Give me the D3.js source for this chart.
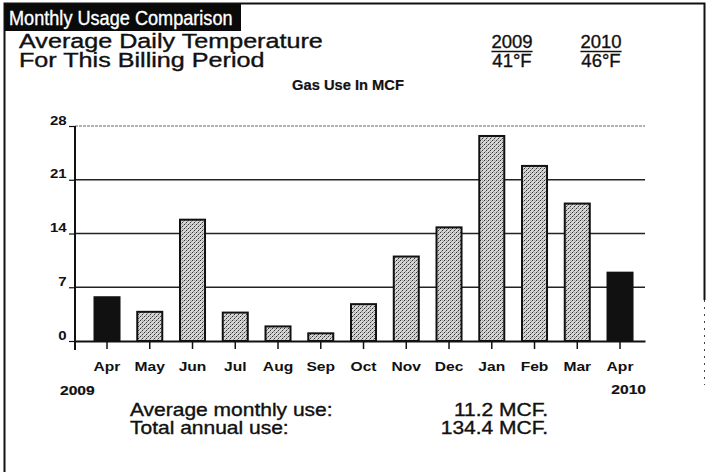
<!DOCTYPE html>
<html>
<head>
<meta charset="utf-8">
<script src="https://cdn.jsdelivr.net/npm/d3@7"></script>
<style>
  body { margin: 0; background: #fff; }
  svg { display: block; font-family: "Liberation Sans", Arial, sans-serif; }
</style>
</head>
<body>
<div id="vis"></div>
<script>
// chart data
const periods = ["2009-04", "2009-05", "2009-06", "2009-07", "2009-08", "2009-09", "2009-10",
                 "2009-11", "2009-12", "2010-01", "2010-02", "2010-03", "2010-04"];
const monthLabels = ["Apr", "May", "Jun", "Jul", "Aug", "Sep", "Oct", "Nov", "Dec", "Jan", "Feb", "Mar", "Apr"];
const usage = [5.7, 3.8, 15.8, 3.7, 1.9, 1.0, 4.8, 11.0, 14.8, 26.7, 22.8, 17.9, 8.9];
const comparePeriods = ["2009-04", "2010-04"];
const yTicks = [0, 7, 14, 21, 28];
const tempYears = ["2009", "2010"];
const tempValues = ["41°F", "46°F"];
const summaryLabels = ["Average monthly use:", "Total annual use:"];
const summaryValues = ["11.2 MCF.", "134.4 MCF."];

const totalWidth = 707, totalHeight = 472;
const plot = {left: 75, right: 645, top: 126, bottom: 341};
const stretch = 1.2; // the printed type is wide

const svg = d3.select("#vis")
  .append("svg")
    .attr("width", totalWidth)
    .attr("height", totalHeight);

// draw a text at x,y, stretched sideways by sx
function addText(x, y, txt, size, sx, opts) {
    opts = opts || {};
    const fill = opts.fill || "#111";
    return svg.append("text")
        .attr("transform", "translate(" + x + "," + y + ") scale(" + sx + ",1)")
        .attr("text-anchor", opts.anchor || "start")
        .attr("fill", fill)
        .attr("stroke", fill)
        .attr("stroke-width", opts.bold ? 0.2 : 0.35)
        .style("font-size", size + "px")
        .style("font-weight", opts.bold ? "bold" : "normal")
        .text(txt);
}

// stipple fill for the bars
const defs = svg.append("defs");
const pat = defs.append("pattern")
    .attr("id", "stipple")
    .attr("patternUnits", "userSpaceOnUse")
    .attr("width", 4)
    .attr("height", 4);
pat.append("rect").attr("width", 4).attr("height", 4).attr("fill", "#d6d6d6");
[[0, 0, "#333"], [2, 2, "#333"], [1, 3, "#888"], [3, 1, "#888"], [2, 0, "#aaa"]].forEach(p => {
    pat.append("rect").attr("x", p[0]).attr("y", p[1])
        .attr("width", 1).attr("height", 1).attr("fill", p[2]);
});

// outer frame
svg.append("path")
    .attr("d", "M4.5,472 V3.5 H704.5 V300")
    .attr("fill", "none")
    .attr("stroke", "#111")
    .attr("stroke-width", 2);
svg.append("line")
    .attr("x1", 704.5).attr("x2", 704.5)
    .attr("y1", 300).attr("y2", 385)
    .attr("stroke", "#444")
    .attr("stroke-width", 1)
    .attr("stroke-dasharray", "2,5");

// title bar
svg.append("rect")
    .attr("x", 5).attr("y", 4)
    .attr("width", 236).attr("height", 27)
    .attr("fill", "#0a0a0a");
addText(9, 25, "Monthly Usage Comparison", 19.5, 0.93, {fill: "#fff"});

// temperature header
addText(19, 47.5, "Average Daily Temperature", 19.5, 1.29);
addText(19, 67, "For This Billing Period", 19.5, 1.29);

const tempX = d3.scalePoint().domain(tempYears).range([512, 601]);
tempYears.forEach((yr, i) => {
    const t = addText(tempX(yr), 48, yr, 18.5, 1, {anchor: "middle"});
    const w = t.node().getComputedTextLength();
    svg.append("line")
        .attr("x1", tempX(yr) - w / 2).attr("x2", tempX(yr) + w / 2)
        .attr("y1", 51.5).attr("y2", 51.5)
        .attr("stroke", "#111").attr("stroke-width", 1.5);
    addText(tempX(yr), 67, tempValues[i], 18.5, 1, {anchor: "middle"});
});

addText(348, 90, "Gas Use In MCF", 14, 1.05, {anchor: "middle", bold: true});

// scales
const x = d3.scaleBand()
    .domain(periods)
    .range([plot.left, plot.right])
    .paddingInner(0.415)
    .paddingOuter(0.374)
    .align(0.61);

const y = d3.scaleLinear()
    .domain([0, 28])
    .range([plot.bottom, plot.top]);

// gridlines
svg.append("g")
  .selectAll("line")
  .data(yTicks.filter(d => d > 0))
  .join("line")
    .attr("x1", plot.left).attr("x2", plot.right)
    .attr("y1", d => y(d)).attr("y2", d => y(d))
    .attr("stroke", d => d === 28 ? "#666" : "#222")
    .attr("stroke-width", d => d === 28 ? 1 : 1.6)
    .attr("stroke-dasharray", d => d === 28 ? "3,1" : null);

// bars
svg.append("g")
  .selectAll("rect")
  .data(periods)
  .join("rect")
    .attr("x", d => x(d))
    .attr("y", (d, i) => y(usage[i]))
    .attr("width", x.bandwidth())
    .attr("height", (d, i) => y(0) - y(usage[i]))
    .attr("fill", d => comparePeriods.includes(d) ? "#111" : "url(#stipple)")
    .attr("stroke", "#111")
    .attr("stroke-width", 2);

// x axis
const xAxis = svg.append("g")
    .attr("transform", "translate(0," + y(0) + ")")
    .call(d3.axisBottom(x).tickSize(8).tickSizeOuter(0).tickFormat((d, i) => monthLabels[i]));
xAxis.select(".domain").attr("stroke", "#111").attr("stroke-width", 2);
xAxis.selectAll(".tick line").attr("stroke", "#111").attr("stroke-width", 1.5);
xAxis.selectAll(".tick text")
    .attr("y", 0)
    .attr("dy", 0)
    .attr("transform", "translate(0,30) scale(" + stretch + ",1)")
    .attr("fill", "#111")
    .style("font-size", "13px")
    .style("font-weight", "bold")
    .style("font-family", "'Liberation Sans', Arial, sans-serif");

addText(60, 395, periods[0].slice(0, 4), 13, stretch, {bold: true});
addText(646, 394, periods[periods.length - 1].slice(0, 4), 13, stretch, {bold: true, anchor: "end"});

// y axis
const yAxis = svg.append("g")
    .attr("transform", "translate(" + plot.left + ",0)")
    .call(d3.axisLeft(y).tickValues(yTicks).tickSize(6).tickPadding(1));
yAxis.select(".domain").remove();
yAxis.selectAll(".tick line").attr("stroke", "#111").attr("stroke-width", 1.2);
yAxis.selectAll(".tick text")
    .attr("dy", "-0.15em")
    .attr("transform", "scale(" + stretch + ",1)")
    .attr("fill", "#111")
    .style("font-size", "12.5px")
    .style("font-weight", "bold")
    .style("font-family", "'Liberation Sans', Arial, sans-serif");
svg.append("line")
    .attr("x1", plot.left).attr("x2", plot.left)
    .attr("y1", y(28)).attr("y2", y(0) + 9)
    .attr("stroke", "#111").attr("stroke-width", 2);

// summary
summaryLabels.forEach((lab, i) => {
    addText(130, 416 + i * 18, lab, 17.5, stretch);
    addText(548, 416 + i * 18, summaryValues[i], 17.5, stretch, {anchor: "end"});
});
</script>
</body>
</html>
